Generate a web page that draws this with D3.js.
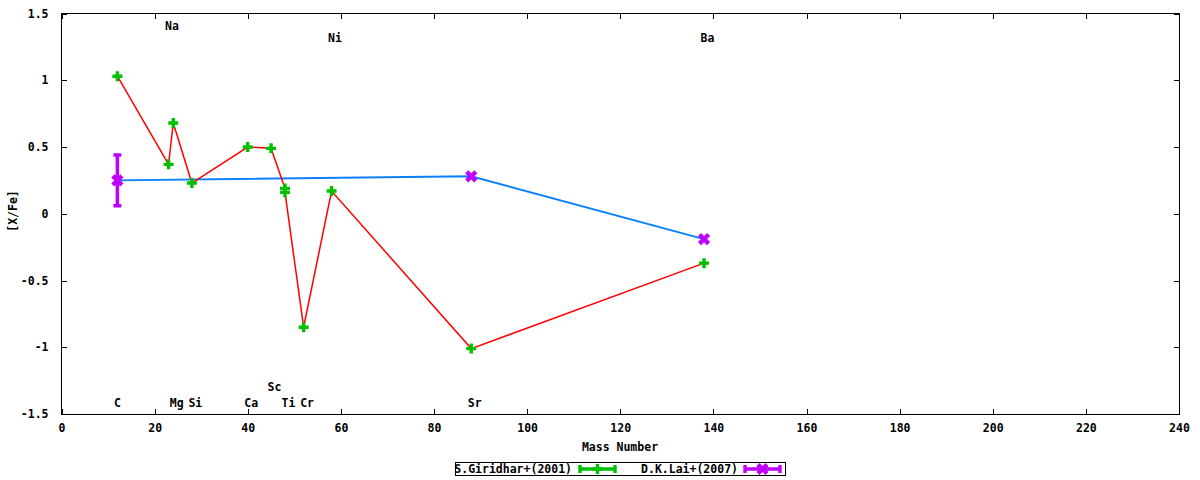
<!DOCTYPE html>
<html lang="en">
<head>
<meta charset="UTF-8">
<title>[X/Fe] vs Mass Number</title>
<script src="https://d3js.org/d3.v7.min.js"></script>
<style>
    body {
        margin: 0;
        background-color: #fff;
    }
    text {
        font-family: "DejaVu Sans Mono", monospace;
        font-weight: bold;
        font-size: 11.5px;
        fill: #000;
    }
    .frame {
        fill: none;
        stroke: #000;
        stroke-width: 1;
        shape-rendering: crispEdges;
    }
    .axis path { display: none; }
    .axis line { stroke: #000; shape-rendering: crispEdges; }
</style>
</head>
<body>
<script>
    const width = 1200;
    const height = 480;

    // S.Giridhar+(2001)
    const giriMass = [12, 23, 24, 28, 40, 45, 48, 48, 52, 58, 88, 138];
    const giriVal  = [1.03, 0.37, 0.68, 0.23, 0.50, 0.49, 0.19, 0.16, -0.85, 0.17, -1.01, -0.37];

    // D.K.Lai+(2007)
    const laiMass = [12, 88, 138];
    const laiVal  = [0.25, 0.28, -0.19];
    const laiErr  = [0.19, 0, 0];

    // element labels (mass, y value)
    const elemNames = ["C", "Na", "Mg", "Si", "Ca", "Sc", "Ti", "Cr", "Ni", "Sr", "Ba"];
    const elemMass  = [12, 23, 24, 28, 40, 45, 48, 52, 58, 88, 138];
    const elemY     = [-1.42, 1.41, -1.42, -1.42, -1.42, -1.3, -1.42, -1.42, 1.32, -1.42, 1.32];

    const xTicks = d3.range(0, 241, 20);
    const yTicks = [-1.5, -1, -0.5, 0, 0.5, 1, 1.5];

    const green = "#00c000";
    const purple = "#c000ff";

    const svg = d3.select("body").append("svg")
        .attr("width", width)
        .attr("height", height);

    const x = d3.scaleLinear().domain([0, 240]).range([61.5, 1179]);
    const y = d3.scaleLinear().domain([-1.5, 1.5]).range([414, 13.5]);

    // axes, gnuplot style: inward ticks, mirrored
    const fmt = d => String(d);
    svg.append("g").attr("class", "axis")
        .attr("transform", `translate(0,${y(-1.5)})`)
        .call(d3.axisBottom(x).tickValues(xTicks).tickSizeInner(-5).tickSizeOuter(0).tickPadding(10).tickFormat(fmt));
    svg.append("g").attr("class", "axis")
        .attr("transform", `translate(0,${y(1.5)})`)
        .call(d3.axisTop(x).tickValues(xTicks).tickSizeInner(-5).tickSizeOuter(0).tickFormat(""));
    svg.append("g").attr("class", "axis")
        .attr("transform", `translate(${x(0)},0)`)
        .call(d3.axisLeft(y).tickValues(yTicks).tickSizeInner(-5).tickSizeOuter(0).tickPadding(13).tickFormat(fmt));
    svg.append("g").attr("class", "axis")
        .attr("transform", `translate(${x(240)},0)`)
        .call(d3.axisRight(y).tickValues(yTicks).tickSizeInner(-5).tickSizeOuter(0).tickFormat(""));
    svg.selectAll(".axis text").attr("font-size", null);

    svg.append("rect")
        .attr("class", "frame")
        .attr("x", x(0))
        .attr("y", y(1.5))
        .attr("width", x(240) - x(0))
        .attr("height", y(-1.5) - y(1.5));

    svg.append("text")
        .attr("x", 620)
        .attr("y", 447)
        .attr("text-anchor", "middle")
        .attr("dominant-baseline", "central")
        .text("Mass Number");

    svg.append("text")
        .attr("transform", "translate(13,211) rotate(-90)")
        .attr("text-anchor", "middle")
        .attr("dominant-baseline", "central")
        .text("[X/Fe]");

    // element labels, left aligned just before the mass
    elemNames.forEach((name, i) => {
        svg.append("text")
            .attr("x", x(elemMass[i]) - 3.5)
            .attr("y", y(elemY[i]))
            .attr("text-anchor", "start")
            .attr("dominant-baseline", "central")
            .text(name);
    });

    function plusMarker(g, cx, cy, color) {
        g.append("path")
            .attr("d", `M${cx - 5},${cy}H${cx + 5}M${cx},${cy - 5}V${cy + 5}`)
            .attr("stroke", color)
            .attr("stroke-width", 3.4)
            .attr("fill", "none");
    }

    function crossMarker(g, cx, cy, color) {
        const s = 3;
        g.append("path")
            .attr("d", `M${cx - s},${cy - s}L${cx + s},${cy + s}M${cx - s},${cy + s}L${cx + s},${cy - s}`)
            .attr("stroke", color)
            .attr("stroke-width", 4.4)
            .attr("stroke-linecap", "square")
            .attr("fill", "none");
    }

    const line = d3.line().x(d => x(d[0])).y(d => y(d[1]));

    // Lai: blue line
    svg.append("path")
        .datum(laiMass.map((m, i) => [m, laiVal[i]]))
        .attr("d", line)
        .attr("fill", "none")
        .attr("stroke", "#0a80ff")
        .attr("stroke-width", 2);

    // Giridhar: red line
    svg.append("path")
        .datum(giriMass.map((m, i) => [m, giriVal[i]]))
        .attr("d", line)
        .attr("fill", "none")
        .attr("stroke", "#ff0000")
        .attr("stroke-width", 1.5);

    const pts = svg.append("g");
    giriMass.forEach((m, i) => plusMarker(pts, x(m), y(giriVal[i]), green));

    laiMass.forEach((m, i) => {
        if (laiErr[i] > 0) {
            const y0 = y(laiVal[i] - laiErr[i]);
            const y1 = y(laiVal[i] + laiErr[i]);
            pts.append("path")
                .attr("d", `M${x(m)},${y0}V${y1}M${x(m) - 4},${y0}H${x(m) + 4}M${x(m) - 4},${y1}H${x(m) + 4}`)
                .attr("stroke", purple)
                .attr("stroke-width", 3.5)
                .attr("fill", "none");
        }
        crossMarker(pts, x(m), y(laiVal[i]), purple);
    });

    // legend
    svg.append("rect")
        .attr("x", 455.5)
        .attr("y", 462.5)
        .attr("width", 330)
        .attr("height", 13)
        .attr("fill", "none")
        .attr("stroke", "#000")
        .attr("shape-rendering", "crispEdges");

    const legend = [
        { label: "S.Giridhar+(2001)", textEnd: 572, x0: 580, x1: 615, color: green, marker: plusMarker },
        { label: "D.K.Lai+(2007)", textEnd: 738, x0: 745, x1: 780, color: purple, marker: crossMarker }
    ];
    const ly = 469;
    legend.forEach(l => {
        svg.append("text")
            .attr("x", l.textEnd)
            .attr("y", ly)
            .attr("text-anchor", "end")
            .attr("dominant-baseline", "central")
            .text(l.label);
        svg.append("path")
            .attr("d", `M${l.x0},${ly}H${l.x1}M${l.x0},${ly - 4}V${ly + 4}M${l.x1},${ly - 4}V${ly + 4}`)
            .attr("stroke", l.color)
            .attr("stroke-width", 3.4)
            .attr("fill", "none");
        l.marker(svg, (l.x0 + l.x1) / 2, ly, l.color);
    });
</script>
</body>
</html>
